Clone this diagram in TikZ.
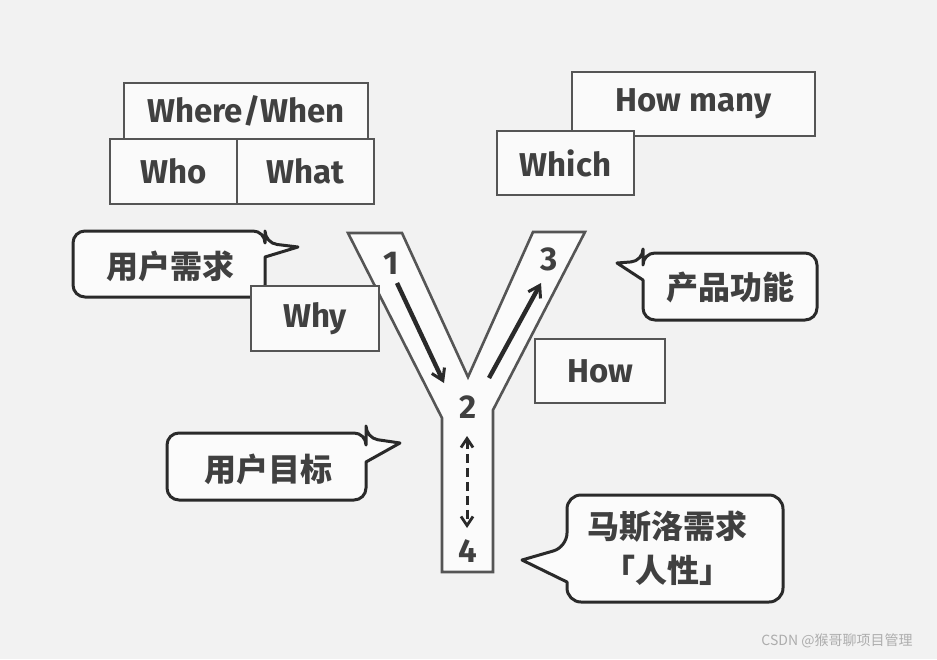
\documentclass[tikz,border=0pt]{standalone}
\usepackage{fontspec}
\setmainfont{Fira Sans}
\newfontfamily\cjk{Noto Sans CJK SC}
\usetikzlibrary{arrows.meta}
\definecolor{txt}{HTML}{404040}
\definecolor{frame}{HTML}{555555}
\definecolor{bg}{HTML}{F2F2F2}
\definecolor{ink}{HTML}{2A2A2A}
\begin{document}
\begin{tikzpicture}[x=1pt,y=-1pt,
  box/.style={draw=frame, line width=2.4pt, fill=white!60!bg, text=txt,
    font=\fontsize{33}{36}\selectfont\bfseries, inner sep=0pt},
  num/.style={text=txt, font=\fontsize{33}{35}\selectfont\bfseries},
  cjklab/.style={text=txt, font=\cjk\bfseries\fontsize{32}{36}\selectfont, align=center},
  bubble/.style={draw=ink, line width=3pt, fill=white!70!bg, line join=round},
  yshape/.style={draw=frame, line width=2.6pt, fill=white!70!bg, line join=miter},
  flow/.style={draw=ink, line width=4.4pt, -{Straight Barb[length=11pt,width=14pt,line width=3pt]}},
  dflow/.style={draw=ink, line width=3pt, dash pattern=on 9pt off 5pt,
    {Straight Barb[length=9pt,width=12pt,line width=2.8pt]}-{Straight Barb[length=9pt,width=12pt,line width=2.8pt]}}
]
% background
\path[fill=bg,use as bounding box] (0,0) rectangle (937,659);

% bubble: user needs
\draw[bubble] (170,231) [rounded corners=12] -- (265,231) -- (265,243) [sharp corners] -- (298,247) -- (265,257) [rounded corners=12] -- (265,297) -- (73,297) -- (73,231) -- cycle;
\node[cjklab] (yhxq) at (170,266) {用户需求};

% Y shape
\draw[yshape] (348,233) -- (402,233) -- (468,377) -- (533,232) -- (585,232) -- (493,410) -- (493,572) -- (442,572) -- (442,418) -- cycle;

% boxes
\node[box, minimum width=244pt, minimum height=56pt] (where) at (246,111) {Where/When};
\node[box, minimum width=127pt, minimum height=65pt] (who) at (173.5,171.5) {Who};
\node[box, minimum width=137pt, minimum height=65pt] (what) at (305.5,171.5) {What};
\node[box, minimum width=243pt, minimum height=64pt] (howmany) at (693.5,104) {How many};
\node[box, minimum width=137pt, minimum height=64pt] (which) at (565.5,163) {Which};
\node[box, minimum width=128pt, minimum height=65pt] (why) at (315,318.5) {Why};
\node[box, minimum width=130pt, minimum height=64pt] (how) at (600,371) {How};

% bubble: product features
\draw[bubble] (730,253) [rounded corners=12] -- (643,253) -- (643,261) [sharp corners] -- (617,263) -- (643,280) [rounded corners=12] -- (643,320) -- (817,320) -- (817,253) -- cycle;
\node[cjklab] (cpgn) at (730,287) {产品功能};

% bubble: user goals
\draw[bubble] (268,433) [rounded corners=12] -- (366,433) -- (366,438) [sharp corners] -- (400,443) -- (366,462) [rounded corners=12] -- (366,500) -- (167,500) -- (167,433) -- cycle;
\node[cjklab] (yhmb) at (268,469) {用户目标};

% bubble: Maslow
\draw[bubble] (667,495) [rounded corners=14] -- (567,495) -- (567,547) [sharp corners] -- (522,560) -- (567,582) [rounded corners=14] -- (567,602) -- (783,602) -- (783,495) -- cycle;
\node[cjklab] (msl) at (667,527) {马斯洛需求};
\node[cjklab] (rx) at (667,570) {「人性」};

% numbers
\node[num] (n1) at (391,263) {1};
\node[num] (n2) at (468,407) {2};
\node[num] (n3) at (549,259) {3};
\node[num] (n4) at (468,551) {4};

% arrows
\coordinate (a1s) at (397,283);
\coordinate (a1e) at (444,383);
\coordinate (a2s) at (489,378);
\coordinate (a2e) at (541,283);
\coordinate (a3s) at (467,436);
\coordinate (a3e) at (467,528);
\draw[flow] (a1s) -- (a1e);
\draw[flow] (a2s) -- (a2e);
\draw[dflow] (a3s) -- (a3e);

% watermark
\node[text=black!32, font=\cjk\fontsize{14}{16}\selectfont] (wm) at (837,641) {CSDN @猴哥聊项目管理};
\end{tikzpicture}
\end{document}
